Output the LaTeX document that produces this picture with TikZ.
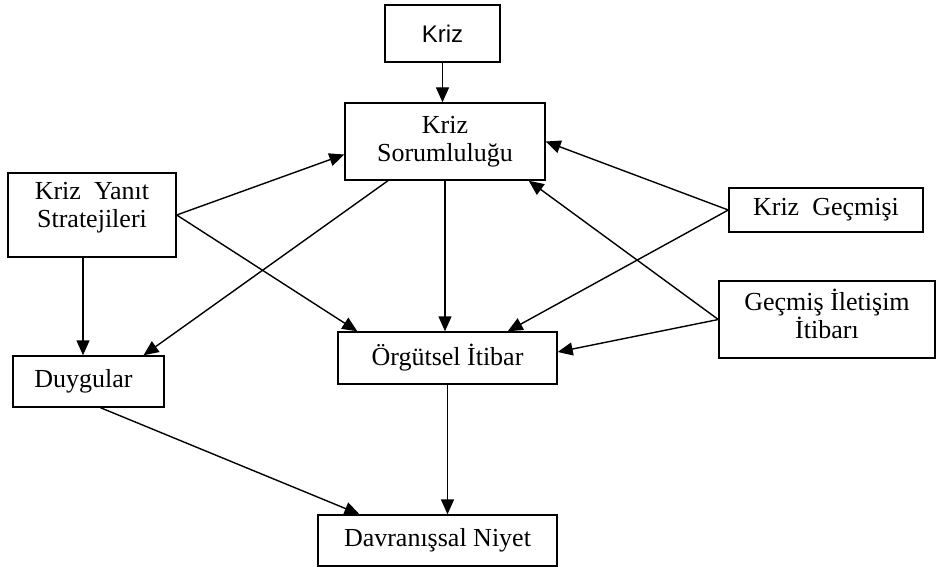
\documentclass[tikz,border=0pt]{standalone}
\usepackage{fontspec}
\setmainfont{Liberation Serif}
\newfontfamily\krizfont{Liberation Sans}
\usepackage{tikz}
\usetikzlibrary{arrows.meta}

\begin{document}
\begin{tikzpicture}[
        x=0.5pt, y=-0.5pt,
        font=\fontsize{13}{14}\selectfont,
        box/.style={draw, line width=0.7pt, align=center, inner sep=0pt},
        link/.style={line width=0.7pt, -{Triangle[length=7.5pt,width=6.5pt]}}
    ]

    \useasboundingbox (0,0) rectangle (937,567);

    \node[box, minimum width=57.5pt, minimum height=28.5pt, font=\krizfont\fontsize{12}{14}\selectfont] (kriz) at (442.5,33.5) {Kriz};
    \node[box, minimum width=100pt, minimum height=38.5pt] (sorum) at (445,141.5) {Kriz\\Sorumluluğu};
    \node[box, minimum width=84pt, minimum height=42pt, text depth=10pt] (yanit) at (92,215) {Kriz \ Yanıt\\Stratejileri};
    \node[box, minimum width=97pt, minimum height=22pt] (gecmis) at (826,210) {Kriz \ Geçmişi};
    \node[box, minimum width=108pt, minimum height=38.5pt, text depth=6pt] (iletisim) at (827,319.5) {Geçmiş İletişim\\İtibarı};
    \node[box, minimum width=109.5pt, minimum height=26pt] (itibar) at (447.5,358) {Örgütsel İtibar};
    \node[box, minimum width=75.5pt, minimum height=25.5pt] (duygu) at (88.5,381.5) {Duygular\hspace{5pt}};
    \node[box, minimum width=119.5pt, minimum height=25.5pt] (niyet) at (437.5,540.5) {Davranışsal Niyet};

    % crisis responsibility
    \draw[link] (kriz.south) -- (kriz.south |- sorum.north);
    \draw[link] (yanit.east) -- ([yshift=-6.5pt]sorum.west);
    \draw[link] (gecmis.west) -- (sorum.east);
    \draw[link] (iletisim.west) -- ([xshift=-8.5pt]sorum.south east);

    % reputation
    \draw[link] (yanit.east) -- ([xshift=10pt]itibar.north west);
    \draw[link] (sorum.south) -- (sorum.south |- itibar.north);
    \draw[link] (gecmis.west) -- ([xshift=-25pt]itibar.north east);
    \draw[link] (iletisim.west) -- ([yshift=3pt]itibar.east);

    % emotions
    \draw[link] ([xshift=-4.5pt]yanit.south) -- ([xshift=-2.75pt]duygu.north);
    \draw[link] ([xshift=-28.5pt]sorum.south) -- ([xshift=27.5pt]duygu.north);

    % intention
    \draw[link] ([xshift=6pt]duygu.south) -- ([xshift=-39pt]niyet.north);
    \draw[link] (itibar.south) -- (itibar.south |- niyet.north);
\end{tikzpicture}
\end{document}
